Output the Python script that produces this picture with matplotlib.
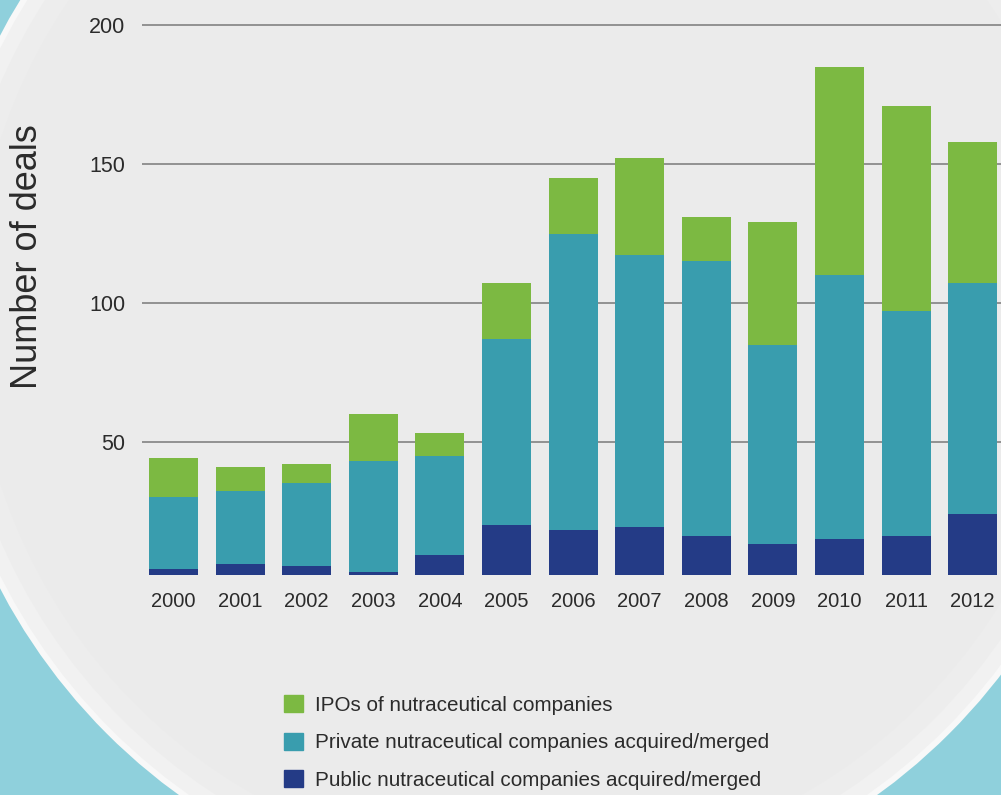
import matplotlib
matplotlib.use("Agg")
import matplotlib.pyplot as plt
from matplotlib.patches import Circle, Patch

# ---- data ----
years = ["2000", "2001", "2002", "2003", "2004", "2005", "2006",
         "2007", "2008", "2009", "2010", "2011", "2012"]
public = [4.4, 6.2, 5.5, 3.3, 9.5, 20.3, 18.5, 19.5, 16.3, 13.5, 15.3, 16.3, 24.2]
private = [25.9, 26.3, 29.9, 40.0, 35.7, 66.9, 106.5, 97.9, 98.9, 71.6, 95.0, 80.9, 83.1]
ipos = [14.1, 8.6, 6.8, 16.9, 8.1, 20.1, 20.1, 34.9, 15.8, 44.1, 74.7, 73.7, 50.7]
yticks = [50, 100, 150, 200]
labels = ["IPOs of nutraceutical companies",
          "Private nutraceutical companies acquired/merged",
          "Public nutraceutical companies acquired/merged"]

c_ipo = "#7cb942"
c_priv = "#399dae"
c_pub = "#243b86"
txt = "#2b2b2b"

plt.rcParams['font.family'] = ['Liberation Sans', 'DejaVu Sans']

W, H = 1001, 795
fig = plt.figure(figsize=(W / 100, H / 100), dpi=100)
fig.patch.set_facecolor("#8fd0dc")

# background plate
bg = fig.add_axes([0, 0, 1, 1], zorder=0)
bg.set_xlim(0, W)
bg.set_ylim(H, 0)
bg.axis("off")
bg.add_patch(Circle((528, 312), 596, facecolor="#f8f8f8", edgecolor="none"))
bg.add_patch(Circle((528, 312), 590, facecolor="#f1f1f1", edgecolor="none"))
bg.add_patch(Circle((528, 312), 575, facecolor="#ededed", edgecolor="none"))
bg.add_patch(Circle((528, 312), 555, facecolor="#ebebeb", edgecolor="none"))

# main axes
left = 142 / W
bottom = (H - 575) / H
ax = fig.add_axes([left, bottom, 1 - left, 555.3 / H], zorder=1)
ax.patch.set_alpha(0)

x = list(range(len(years)))
bw = 0.736
ax.bar(x, public, bw, color=c_pub, zorder=3)
bot2 = [p for p in public]
ax.bar(x, private, bw, bottom=bot2, color=c_priv, zorder=3)
bot3 = [p + q for p, q in zip(public, private)]
ax.bar(x, ipos, bw, bottom=bot3, color=c_ipo, zorder=3)

ax.set_xlim(-0.473, 12.425)
ax.set_ylim(2.27, 202)
ax.set_yticks(yticks)
ax.set_yticklabels([str(t) for t in yticks])
ax.set_xticks(x)
ax.set_xticklabels(years)
ax.tick_params(axis="both", length=0, colors=txt)
ax.tick_params(axis="y", pad=12, labelsize=15.5)
ax.tick_params(axis="x", pad=12, labelsize=14.5)
ax.yaxis.grid(True, color="#8a8a8a", linewidth=1.3)
ax.set_axisbelow(True)
for s in ax.spines.values():
    s.set_visible(False)

fig.text(28 / W, 1 - 257 / H, "Number of deals", rotation=90, fontsize=26,
         color=txt, ha="center", va="center")

handles = [Patch(color=c_ipo), Patch(color=c_priv), Patch(color=c_pub)]
leg = fig.legend(handles, labels, loc="upper left",
                 bbox_to_anchor=(284 / W, 1 - 695 / H), frameon=False,
                 fontsize=14.9, handlelength=0.9, handleheight=0.9,
                 handletextpad=0.58, labelspacing=0.86, borderpad=0,
                 borderaxespad=0)
for t in leg.get_texts():
    t.set_color(txt)

fig.savefig("out.png", dpi=100, facecolor=fig.get_facecolor())
